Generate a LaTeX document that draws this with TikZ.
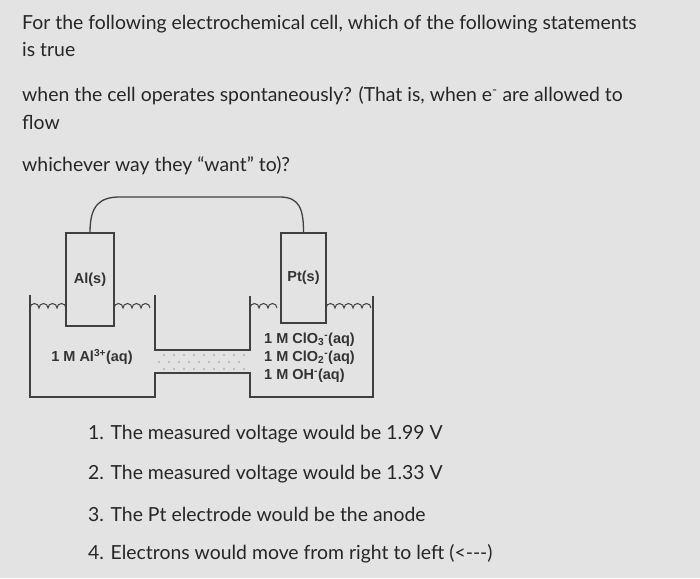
\documentclass[tikz,border=0pt]{standalone}
\usepackage{fontspec}
\setmainfont{Lato}
\newfontfamily\labfont{Liberation Sans}
\begin{document}
\begin{tikzpicture}[x=1pt,y=-1pt,
  txt/.style={anchor=west,inner sep=0pt,font=\fontsize{19.4}{21}\selectfont,text=black!85},
  lab/.style={inner sep=0pt,font=\labfont\bfseries\fontsize{14.5}{15}\selectfont,text=black!80},
  ln/.style={draw=black!75,line width=1.3pt},
  wave/.style={draw=black!75,line width=1pt}]
\fill[gray!22] (0,0) rectangle (700,578);
\useasboundingbox (0,0) rectangle (700,578);
\node[txt] (t1) at (22,24) {For the following electrochemical cell, which of the following statements};
\node[txt] (t2) at (22,50) {is true};
\node[txt] (t3) at (22,96) {when the cell operates spontaneously? (That is, when e\textsuperscript{-} are allowed to};
\node[txt] (t4) at (22,122) {flow};
\node[txt] (t5) at (22,166) {whichever way they ``want'' to)?};
\draw[ln] (30,295) -- (30,397) -- (155,397) -- (155,373) -- (250,373) -- (250,397) -- (373,397) -- (373,296);
\draw[ln] (155,295) -- (155,350) -- (250,350) -- (250,296);
\foreach \i in {0,...,8}{\fill[black!40] (164+\i*10,355) circle (0.8); \fill[black!40] (159+\i*10,362) circle (0.8); \fill[black!40] (164+\i*10,369) circle (0.8);}
\node[ln,minimum width=48,minimum height=93,inner sep=0] (al) at (90,279.5) {};
\node[ln,minimum width=45,minimum height=90,inner sep=0] (pt) at (303.5,278) {};
\node[lab] at (al) {Al(s)};
\node[lab] at (pt) {Pt(s)};
\draw[ln] (al.north) .. controls (90,205) and (100,197) .. (120,197) -- (280,197) .. controls (300,197) and (303.5,210) .. (pt.north);
\foreach \a/\b in {30/66,114/155,250/281,326/373}{
 \pgfmathsetmacro{\n}{int((\b-\a)/9)}
 \draw[wave] (\a,308) \foreach \k in {1,...,\n}{ arc[start angle=180,end angle=360,radius=4.5]};
}
\node[lab] (ala) at (92,357) {1 M Al\textsuperscript{3+}(aq)};
\node[lab,anchor=west] (c3) at (264,340) {1 M ClO\textsubscript{3}\textsuperscript{-}(aq)};
\node[lab,anchor=west] (c2) at (264,358) {1 M ClO\textsubscript{2}\textsuperscript{-}(aq)};
\node[lab,anchor=west] (oh) at (264,376) {1 M OH\textsuperscript{-}(aq)};
\node[txt] (o1) at (88,434) {1.  The measured voltage would be 1.99 V};
\node[txt] (o2) at (88,474) {2.  The measured voltage would be 1.33 V};
\node[txt] (o3) at (88,514) {3.  The Pt electrode would be the anode};
\node[txt] (o4) at (88,554) {4.  Electrons would move from right to left (<{-}{-}{-})};
\end{tikzpicture}
\end{document}
